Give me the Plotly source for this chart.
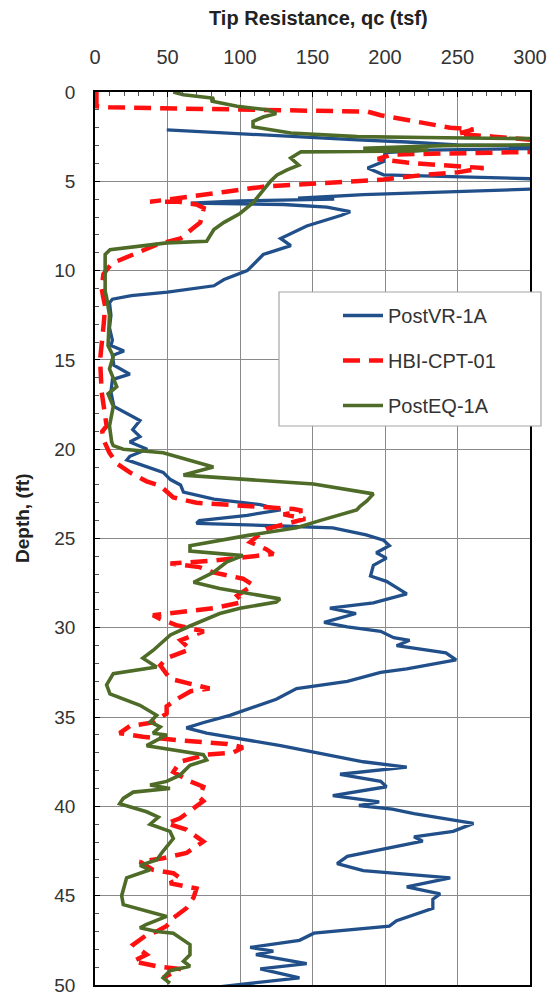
import plotly.graph_objects as go

# Cone tip resistance qc (tsf) versus depth (ft) for three soundings
vr_qc = [49.5, 112, 181, 215, 250, 320, 320, 230, 200, 199, 188, 199, 300, 320, 320, 300, 185, 140, 165, 100, 66, 130,
         160, 176, 170, 146, 128, 135, 116, 105, 89, 82, 50, 25, 12, 10, 11, 10, 12, 11, 20, 12, 13, 24, 12, 11, 13, 20,
         31, 26, 31, 24, 36, 24, 22, 47, 52, 59, 61, 82, 114, 128, 105, 72, 70, 128, 164, 187, 199, 203, 194, 201, 192,
         190, 201, 215, 192, 162, 180, 158, 174, 197, 206, 217, 208, 242, 249, 215, 197, 174, 139, 125, 114, 93, 75, 63,
         77, 128, 185, 215, 169, 197, 201, 164, 196, 182, 205, 220, 261, 247, 220, 226, 174, 167, 185, 245, 215, 238,
         233, 233, 208, 203, 151, 141, 107, 123, 111, 146, 114, 141, 86]
vr_depth = [2.12, 2.4, 2.68, 2.8, 2.96, 3.05, 3.15, 3.25, 3.4, 3.9, 4.26, 4.64, 4.88, 4.9, 5.4, 5.44, 5.75, 5.95, 6.0,
            6.1, 6.22, 6.3, 6.45, 6.7, 6.9, 7.5, 8.2, 8.6, 9.1, 10.0, 10.5, 10.85, 11.2, 11.4, 11.6, 11.8, 12.5, 13.2,
            13.9, 14.2, 14.5, 14.75, 15.3, 15.8, 16.1, 16.8, 17.6, 17.9, 18.4, 18.9, 19.3, 19.6, 20.0, 20.4, 20.6, 21.3,
            21.7, 22.0, 22.4, 22.8, 23.1, 23.4, 23.7, 24.0, 24.15, 24.3, 24.4, 24.8, 25.1, 25.4, 25.8, 26.1, 26.5, 27.1,
            27.4, 28.1, 28.6, 28.9, 29.2, 29.7, 29.95, 30.2, 30.55, 30.7, 31.0, 31.4, 31.8, 32.3, 32.5, 33.0, 33.4, 34.0,
            34.3, 34.9, 35.3, 35.6, 35.9, 36.6, 37.5, 37.8, 38.2, 38.6, 38.9, 39.4, 39.75, 39.95, 40.15, 40.4, 40.95,
            41.4, 41.7, 41.95, 42.8, 43.2, 43.6, 44.0, 44.5, 44.9, 45.2, 45.7, 46.4, 46.7, 47.1, 47.5, 47.9, 48.1, 48.3,
            48.8, 49.1, 49.6, 50.1]

hbi_qc = [1, 1, 10, 70, 125, 188, 197, 215, 245, 261, 250, 275, 305, 305, 230, 205, 195, 215, 240, 268, 250, 227, 199,
          158, 116, 89, 66, 45, 38, 58, 70, 75, 73, 72.6, 68, 59, 42.6, 26.5, 11.5, 5.8, 4.6, 5.7, 7, 6, 4, 3.5, 4.6, 6,
          8, 5, 6, 10, 15, 24, 35.6, 45, 54, 70, 104.6, 137, 143, 130, 145, 118, 107, 118, 123, 104.6, 81.6, 52, 72,
          81.6, 102, 109, 98, 102, 81.6, 40, 45, 56, 75, 59, 65.5, 49.4, 45, 51.7, 65.5, 79, 66, 56.3, 49.4, 49.4, 40,
          24, 17, 33, 58.6, 91, 102, 95, 77, 58.6, 54, 65.5, 74.7, 72, 74.7, 68, 58.6, 49.4, 63, 74.7, 63.2, 47, 31, 40,
          54, 58.6, 51.7, 70, 68, 63, 54, 49.4, 42.5, 35.6, 26.4, 35.6, 26.4, 42.5, 58.6, 47]
hbi_depth = [0, 0.8, 0.86, 0.92, 0.98, 1.1, 1.3, 1.55, 2.0, 2.1, 2.35, 2.5, 2.7, 3.35, 3.42, 3.5, 3.75, 3.95, 4.1,
             4.26, 4.5, 4.64, 4.9, 5.1, 5.3, 5.6, 5.85, 6.05, 6.15, 6.15, 6.3, 6.5, 7.0, 7.3, 7.6, 8.2, 8.55, 9.1, 9.6,
             10.2, 11.0, 11.5, 12.0, 13.0, 14.5, 15.0, 16.8, 17.8, 18.7, 19.0, 19.5, 20.2, 20.8, 21.3, 21.8, 22.05,
             22.7, 23.0, 23.16, 23.35, 23.45, 23.65, 23.9, 24.47, 25.2, 25.6, 25.87, 26.05, 26.24, 26.4, 26.6, 26.9,
             27.25, 27.6, 28.2, 28.56, 28.9, 29.3, 29.5, 29.85, 30.2, 30.7, 31.2, 31.7, 32.1, 32.85, 33.1, 33.4, 33.55,
             34.0, 34.4, 34.8, 35.3, 35.5, 35.9, 36.1, 36.3, 36.5, 36.7, 37.0, 37.1, 37.5, 38.07, 38.6, 38.9, 39.5, 39.7,
             40.1, 40.67, 40.95, 41.3, 41.97, 42.6, 42.9, 43.1, 43.55, 43.74, 44.0, 44.3, 44.6, 45.1, 45.7, 46.25, 46.7,
             47.0, 47.2, 47.74, 48.3, 48.67, 48.95, 49.1, 49.6]

eq_qc = [54, 61, 82, 80, 98, 119, 125, 116, 109, 109, 135, 181, 227, 310, 310, 240, 185, 230, 218, 142, 135, 140.5,
         132.5, 125.6, 121, 116, 109, 100, 89, 82, 77, 49.5, 10.4, 7, 7, 8, 10, 9, 12.6, 10, 15, 9, 12.6, 10, 11.5,
         12.6, 19.5, 47, 81.6, 61, 104.6, 150.6, 192, 187.5, 182.8, 180.5, 155, 139, 104.6, 65.5, 65.5, 102, 91, 81.6,
         68, 86, 127.6, 125, 100, 86, 65.5, 60, 52, 40, 33, 42.5, 12.6, 8, 10.3, 31, 42.5, 38, 45, 40, 49.4, 35.6,
         51.7, 74.7, 77, 65.5, 58.6, 49.4, 38, 51.7, 26.4, 19.5, 17, 35.6, 43.7, 38, 51.7, 54, 47, 42.5, 31, 38, 21.8,
         19.5, 18.4, 19.5, 38, 49.4, 35.6, 31, 42.5, 54, 65.5, 65.5, 61, 65.5, 51.7, 47, 51.7]
eq_depth = [0, 0.15, 0.35, 0.5, 0.8, 1.0, 1.2, 1.4, 1.65, 1.95, 2.3, 2.5, 2.55, 2.62, 2.95, 3.0, 3.15, 3.25, 3.3, 3.35,
            3.7, 4.1, 4.36, 4.64, 5.0, 5.5, 6.2, 6.8, 7.3, 7.7, 8.36, 8.45, 8.83, 9.1, 11.15, 11.5, 12.5, 14.2, 14.8,
            15.5, 16.5, 16.9, 17.6, 18.7, 19.6, 19.8, 20.0, 20.2, 21.0, 21.45, 21.7, 21.95, 22.5, 22.9, 23.2, 23.4,
            24.0, 24.4, 24.84, 25.4, 25.7, 25.96, 26.3, 26.9, 27.45, 27.8, 28.38, 28.56, 28.9, 29.2, 29.9, 30.1, 30.4,
            31.27, 31.7, 32.2, 32.57, 33.2, 33.7, 34.34, 34.9, 35.27, 35.55, 35.9, 36.0, 36.6, 36.8, 37.1, 37.4, 37.7,
            38.25, 38.6, 38.8, 39.0, 39.2, 39.55, 39.85, 40.3, 40.6, 41.0, 41.4, 41.8, 42.5, 43.0, 43.3, 43.55, 44.0,
            44.6, 45.0, 45.5, 45.9, 46.16, 46.6, 46.8, 47.0, 47.1, 47.74, 48.3, 48.67, 48.95, 49.2, 49.6, 49.9]

series_names = ["PostVR-1A", "HBI-CPT-01", "PostEQ-1A"]
x_ticks = [0, 50, 100, 150, 200, 250, 300]
y_ticks = [0, 5, 10, 15, 20, 25, 30, 35, 40, 45, 50]

FONT = "Liberation Sans, Arial, sans-serif"

fig = go.Figure()
fig.add_trace(go.Scatter(x=vr_qc, y=vr_depth, mode="lines", name=series_names[0], legendgroup="a",
                         line=dict(color="#214F8A", width=3.3)))
fig.add_trace(go.Scatter(x=hbi_qc, y=hbi_depth, mode="lines", name=series_names[1], legendgroup="b",
                         line=dict(color="#FF1010", width=4.5, dash="17px,9px")))
fig.add_trace(go.Scatter(x=eq_qc, y=eq_depth, mode="lines", name=series_names[2], legendgroup="c",
                         line=dict(color="#4E6B28", width=3.6)))

# plot area: x 95..530 px, y 92..985 px
L, R, T, B = 95, 18, 92, 12
W, H = 548, 997
pw, ph = W - L - R, H - T - B


def px_x(p):
    return (p - L) / pw


def px_y(p):
    return 1 - (p - T) / ph


fig.update_layout(
    width=W, height=H,
    margin=dict(l=L, r=R, t=T, b=B, autoexpand=False),
    paper_bgcolor="white", plot_bgcolor="white",
    font=dict(family=FONT, color="#333333"),
    showlegend=True,
    legend=dict(
        x=px_x(338), y=px_y(296), xanchor="left", yanchor="top",
        bgcolor="rgba(0,0,0,0)", borderwidth=0,
        font=dict(size=20, color="#333333", family=FONT),
        tracegroupgap=16, itemwidth=40,
    ),
    xaxis=dict(
        side="top", range=[0, 300], tickvals=x_ticks, ticktext=[str(v) for v in x_ticks],
        showgrid=True, gridcolor="#8a8a8a", gridwidth=1, zeroline=False,
        showline=True, linecolor="black", linewidth=1.5, mirror=True,
        ticks="inside", ticklen=5, tickcolor="black",
        minor=dict(dtick=10, ticks="inside", ticklen=4, tickcolor="#555555", showgrid=False),
        tickfont=dict(size=20, color="#333333"), ticklabelstandoff=18,
        ticklabeloverflow="allow", automargin=False,
    ),
    yaxis=dict(
        range=[50, 0], tickvals=y_ticks, ticktext=[str(v) for v in y_ticks],
        showgrid=True, gridcolor="#8a8a8a", gridwidth=1, zeroline=False,
        showline=True, linecolor="black", linewidth=1.5, mirror=True,
        ticks="inside", ticklen=5, tickcolor="black",
        minor=dict(dtick=1, ticks="inside", ticklen=4, tickcolor="#555555", showgrid=False),
        tickfont=dict(size=19, color="#333333"), ticklabelstandoff=14,
        ticklabeloverflow="allow", automargin=False,
    ),
    shapes=[dict(type="rect", xref="paper", yref="paper", layer="above",
                 x0=px_x(279), x1=px_x(541), y0=px_y(426), y1=px_y(292),
                 fillcolor="white", line=dict(color="#a6a6a6", width=1.2))],
    annotations=[
        dict(text="<b>Tip Resistance, qc (tsf)</b>", xref="paper", yref="paper",
             x=px_x(318), y=px_y(18), xanchor="center", yanchor="middle", showarrow=False,
             font=dict(size=20, color="#222222")),
        dict(text="<b>Depth, (ft)</b>", xref="paper", yref="paper", textangle=-90,
             x=px_x(22), y=px_y(518), xanchor="center", yanchor="middle", showarrow=False,
             font=dict(size=19, color="#222222")),
    ],
)

fig.write_html("out.html")
